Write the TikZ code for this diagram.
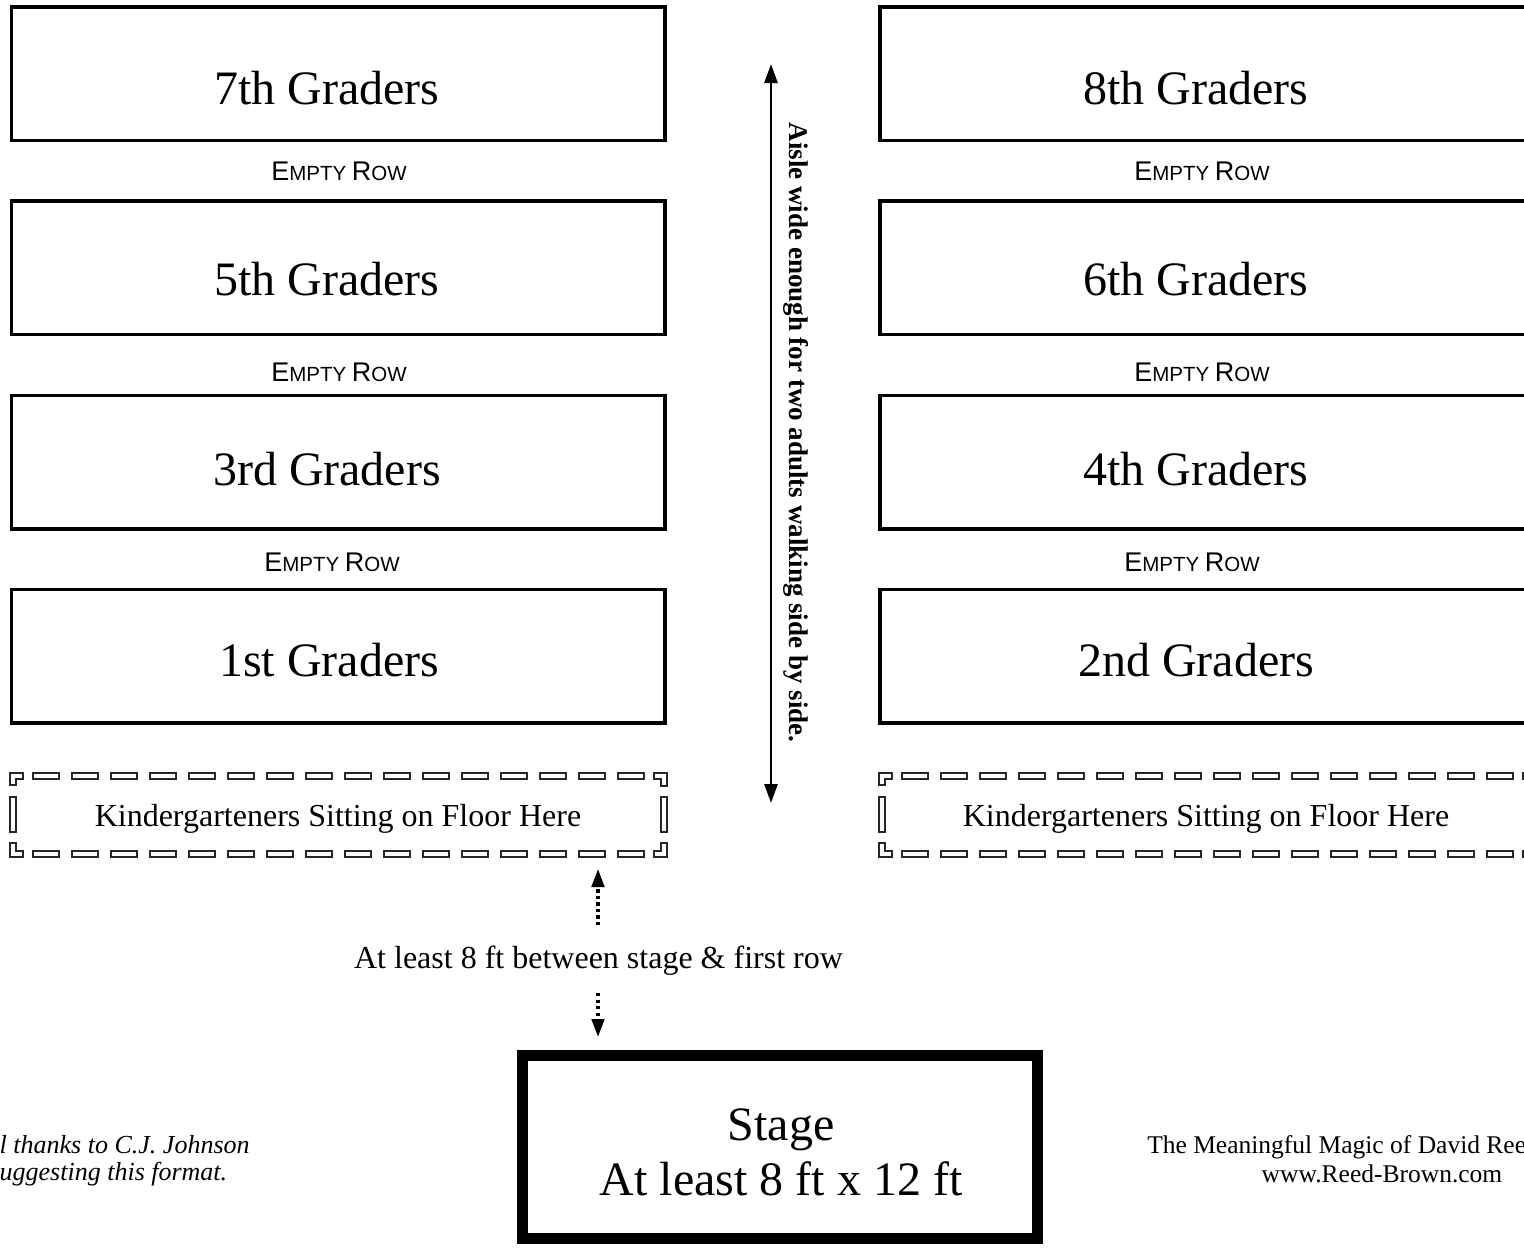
\documentclass[tikz,border=0pt]{standalone}
\usepackage{fontspec}
\setmainfont{Liberation Serif}
\newfontfamily\sansf{Liberation Sans}
\usetikzlibrary{arrows.meta}
\newcommand\emptyrowtext{{\sansf\fontsize{27}{30}\selectfont E\fontsize{20.5}{24}\selectfont MPTY \fontsize{27}{30}\selectfont R\fontsize{20.5}{24}\selectfont OW}}
\newcommand\kidpieces{%
  \draw[dashpiece] (10,773) -- (23,773) -- (23,779) -- (16,779) -- (16,785) -- (10,785) -- cycle;
  \draw[dashpiece] (654,773) -- (667,773) -- (667,786) -- (661,786) -- (661,779) -- (654,779) -- cycle;
  \draw[dashpiece] (10,843) -- (16,843) -- (16,851) -- (23,851) -- (23,857) -- (10,857) -- cycle;
  \draw[dashpiece] (661,843) -- (667,843) -- (667,857) -- (654,857) -- (654,851) -- (661,851) -- cycle;
  \draw[dashpiece] (10,797) rectangle (16,832);
  \draw[dashpiece] (661,797) rectangle (667,832);
  \foreach \k in {0,...,15}{
    \draw[dashpiece] ({33+39*\k},773) rectangle ++(26,6);
    \draw[dashpiece] ({33+39*\k},851) rectangle ++(26,6);
  }%
}
\tikzset{
  rowbox/.style={draw, line width=3.6pt, minimum width=653.5pt, minimum height=133.5pt, anchor=north west, inner sep=0pt},
  gradetxt/.style={font=\fontsize{48}{56}\selectfont, inner sep=0pt, anchor=base},
  emptytxt/.style={inner sep=0pt, anchor=base},
  kidtxt/.style={font=\fontsize{32}{38}\selectfont, inner sep=0pt, anchor=base},
  dashpiece/.style={draw=black!85, line width=1.1pt, fill=white},
  aislearrow/.style={line width=2.7pt, {Triangle[length=19pt,width=13pt]}-{Triangle[length=19pt,width=13pt]}},
  dotarrow/.style={line width=3.3pt, dash pattern=on 3.4pt off 3.1pt, -{Triangle[length=18pt,width=12.5pt]}},
  stagebox/.style={draw, line width=11pt, minimum width=515pt, minimum height=183pt, anchor=north west, inner sep=0pt},
  cornertxt/.style={inner sep=0pt, align=center}
}
\begin{document}
\begin{tikzpicture}[x=1pt,y=-1pt]
\path[use as bounding box] (0,0) rectangle (1524,1248);
\clip (0,0) rectangle (1524,1248);
\fill[white] (0,0) rectangle (1524,1248);

% seating rows
\node[rowbox] (La) at (9.7,5.0) {};
\node[rowbox] (Lb) at (9.7,199.2) {};
\node[rowbox] (Lc) at (9.7,393.6) {};
\node[rowbox] (Ld) at (9.7,587.8) {};
\node[rowbox] (Ra) at (878.2,5.0) {};
\node[rowbox] (Rb) at (878.2,199.2) {};
\node[rowbox] (Rc) at (878.2,393.6) {};
\node[rowbox] (Rd) at (878.2,587.8) {};

\node[gradetxt] (tLa) at (327,104) {7th Graders};
\node[gradetxt] (tLb) at (327,295) {5th Graders};
\node[gradetxt] (tLc) at (327,485) {3rd Graders};
\node[gradetxt] (tLd) at (329,676) {1st Graders};
\node[gradetxt] (tRa) at (1196,104) {8th Graders};
\node[gradetxt] (tRb) at (1196,295) {6th Graders};
\node[gradetxt] (tRc) at (1196,485) {4th Graders};
\node[gradetxt] (tRd) at (1196,676) {2nd Graders};

% empty rows
\node[emptytxt] (eL1) at (339,180) {\emptyrowtext};
\node[emptytxt] (eL2) at (339,381) {\emptyrowtext};
\node[emptytxt] (eL3) at (332,571) {\emptyrowtext};
\node[emptytxt] (eR1) at (1202,180) {\emptyrowtext};
\node[emptytxt] (eR2) at (1202,381) {\emptyrowtext};
\node[emptytxt] (eR3) at (1192,571) {\emptyrowtext};

% kindergarten floor areas
\kidpieces
\begin{scope}[xshift=869pt]
\kidpieces
\end{scope}
\node[kidtxt] (kL) at (338,826) {Kindergarteners Sitting on Floor Here};
\node[kidtxt] (kR) at (1206,826) {Kindergarteners Sitting on Floor Here};

% aisle
\coordinate (aisletop) at (771,64);
\coordinate (aislebot) at (771,803);
\draw[aislearrow] (aislebot) -- (aisletop);
\node[rotate=-90, font=\bfseries\fontsize{27}{32}\selectfont, inner sep=0pt] (aisle) at (796,432.5) {Aisle wide enough for two adults walking side by side.};

% gap to stage
\node[kidtxt] (gap) at (598.5,968) {At least 8 ft between stage \& first row};
\coordinate (upstart) at (598,925);
\coordinate (uptip) at (598,869);
\coordinate (dnstart) at (598,993);
\coordinate (dntip) at (598,1037);
\draw[dotarrow] (upstart) -- (uptip);
\draw[dotarrow] (dnstart) -- (dntip);

% stage
\node[stagebox] (stage) at (517,1050) {};
\node[inner sep=0pt, align=center, font=\fontsize{48}{55}\selectfont] (stagetxt) at (781,1152.3) {Stage\\At least 8 ft x 12 ft};

% corner notes
\node[cornertxt, font=\itshape\fontsize{26}{27}\selectfont] (thanks) at (90,1160.4) {Special thanks to C.J. Johnson\\for suggesting this format.};
\node[cornertxt, font=\fontsize{25.5}{29}\selectfont] (credit) at (1382,1158.8) {The Meaningful Magic of David Reed-Brown\\www.Reed-Brown.com};
\end{tikzpicture}
\end{document}
